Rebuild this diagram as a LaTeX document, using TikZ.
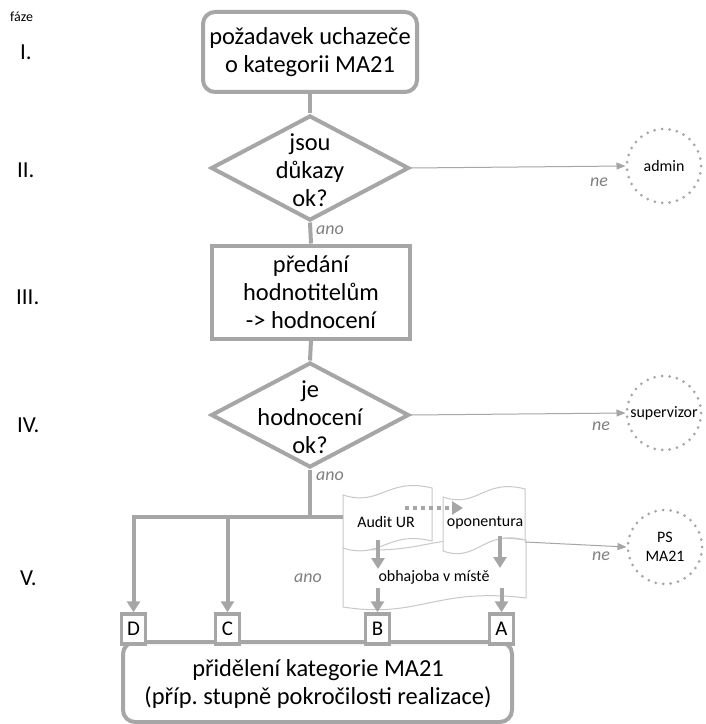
\documentclass[tikz,border=0pt]{standalone}
\usepackage{fontspec}
\setmainfont{Carlito}
\frenchspacing
\usetikzlibrary{arrows.meta,shapes.geometric}
\definecolor{lg}{RGB}{166,166,166}
\definecolor{tg}{RGB}{128,128,128}
\definecolor{og}{RGB}{200,200,200}
\newcommand\tapepath[6]{%
  (#1,#3) .. controls ({#1+0.42*(#2-#1)},{#3+12}) and ({#1+0.5*(#2-#1)},{#4-11}) .. (#2,#4)
  -- (#2,#6) .. controls ({#1+0.5*(#2-#1)},{#6-11}) and ({#1+0.42*(#2-#1)},{#5+12}) .. (#1,#5) -- cycle}
\tikzset{
  x=1bp, y=-1bp,
  big/.style={font=\fontsize{24.5}{28}\selectfont, align=center, inner sep=0pt, text=black},
  mid/.style={font=\fontsize{16}{19}\selectfont, align=center, inner sep=0pt, text=black},
  phase/.style={font=\fontsize{23}{27}\selectfont, inner sep=0pt, anchor=west},
  lab/.style={font=\fontsize{18}{20}\selectfont\itshape, text=tg, inner sep=0pt},
  thick box/.style={draw=lg, line width=4bp, fill=white},
  dia/.style={diamond, draw=lg, line width=4bp, fill=white, inner sep=0pt,
     minimum width=198bp, minimum height=105bp},
  letter/.style={draw=lg, line width=3.5bp, fill=white, minimum width=24bp,
     minimum height=30bp, inner sep=0pt, font=\fontsize{21}{24}\selectfont},
  conn/.style={draw=lg, line width=4bp},
  carr/.style={conn, -{Triangle[width=13bp,length=11bp]}},
  thinarr/.style={draw=lg, line width=1bp, -{Triangle[width=7bp,length=9bp]}},
  dotcirc/.style={circle, draw=lg, line width=3bp, dash pattern=on 0bp off 7.5bp,
     line cap=round, minimum size=74bp, inner sep=0pt, font=\fontsize{16}{19}\selectfont, align=center},
  tape/.style={draw=og, line width=1bp, fill=white},
}
\begin{document}
\begin{tikzpicture}
\useasboundingbox[fill=white] (0,0) rectangle (706,724);
% phase labels
\node[font=\fontsize{14}{16}\selectfont, inner sep=0pt, anchor=west] (faze) at (10,17) {fáze};
\node[phase] (p1) at (20,52) {I.};
\node[phase] (p2) at (17,170) {II.};
\node[phase] (p3) at (16,297) {III.};
\node[phase] (p4) at (17,425) {IV.};
\node[phase] (p5) at (20,578) {V.};

% main nodes
\node[thick box, rounded corners=12bp, minimum width=214bp, minimum height=80bp, big] (b1) at (310,52)
  {požadavek uchazeče\\o kategorii MA21};
\node[dia] (d1) at (310,168) {};
\node[big] (d1t) at (310,170) {jsou\\důkazy\\ok?};
\node[thick box, minimum width=198bp, minimum height=93bp, big] (b3) at (311,292)
  {předání\\hodnotitelům\\-> hodnocení};
\node[dia] (d2) at (310,415) {};
\node[big] (d2t) at (310,417) {je\\hodnocení\\ok?};

% circles
\node[dotcirc] (admin) at (664,166) {admin};
\node[dotcirc] (sup) at (664,413) {supervizor};
\node[dotcirc] (ps) at (665,547) {PS\\MA21};

% trunk
\draw[conn] (b1.south) -- (d1.north);
\draw[conn] (d1.south) -- (b3.north);
\draw[conn] (b3.south) -- (d2.north);
\node[lab, anchor=west] (ano1) at (316,230) {ano};
\node[lab, anchor=west] (ano2) at (316,476) {ano};
\node[lab] (ano3) at (308,578) {ano};

% no-branches
\draw[thinarr] (d1.east) -- (admin.west);
\node[lab] (ne1) at (599,182) {ne};
\draw[thinarr] (d2.east) -- (sup.west);
\node[lab] (ne2) at (601,426) {ne};

% bottom box
\draw[thick box, rounded corners=12bp] (123,642) rectangle (512,722);
\node[big] (fin) at (318,684) {přidělení kategorie MA21\\(příp. stupně pokročilosti realizace)};
\node[letter] (D) at (133.5,629) {D};
\node[letter] (C) at (227.5,629) {C};
\node[letter] (B) at (377.5,629) {B};
\node[letter] (A) at (501.5,629) {A};

% tapes
\draw[tape] \tapepath{343}{526}{547}{540}{607}{598};
\node[mid] (obh) at (434,577) {obhajoba v místě};
\draw[tape] \tapepath{343}{432}{495}{488}{548}{541};
\node[mid] (audit) at (386,522) {Audit UR};
\draw[tape] \tapepath{443}{525}{497}{489}{551}{540};
\node[mid] (opo) at (485,523) {oponentura};

% junction and branches
\coordinate (j) at (310,517);
\coordinate (auditW) at (343,517);
\draw[conn] (d2.south) -- (j);
\draw[conn] (j) -- (auditW);
\draw[carr] (j) -| (D.north);
\draw[carr] (C.north |- j) -- (C.north);

% inner arrows
\coordinate (a1s) at (378,540);
\coordinate (a1e) at (378,569);
\coordinate (a2s) at (500,536);
\coordinate (a2e) at (500,568);
\draw[carr] (a1s) -- (a1e);
\draw[carr] (a2s) -- (a2e);
\coordinate (bs) at (B.north |- 0,588);
\coordinate (as) at (A.north |- 0,588);
\draw[carr] (bs) -- (B.north);
\draw[carr] (as) -- (A.north);
\coordinate (ds) at (405,508);
\coordinate (de) at (463,508);
\draw[draw=lg, line width=4bp, dash pattern=on 4bp off 4bp, -{Triangle[width=13bp,length=11bp]}] (ds) -- (de);

% PS branch
\coordinate (opoE) at (525,542);
\draw[thinarr] (opoE) -- (ps.west);
\node[lab] (ne3) at (601,556) {ne};
\end{tikzpicture}
\end{document}
